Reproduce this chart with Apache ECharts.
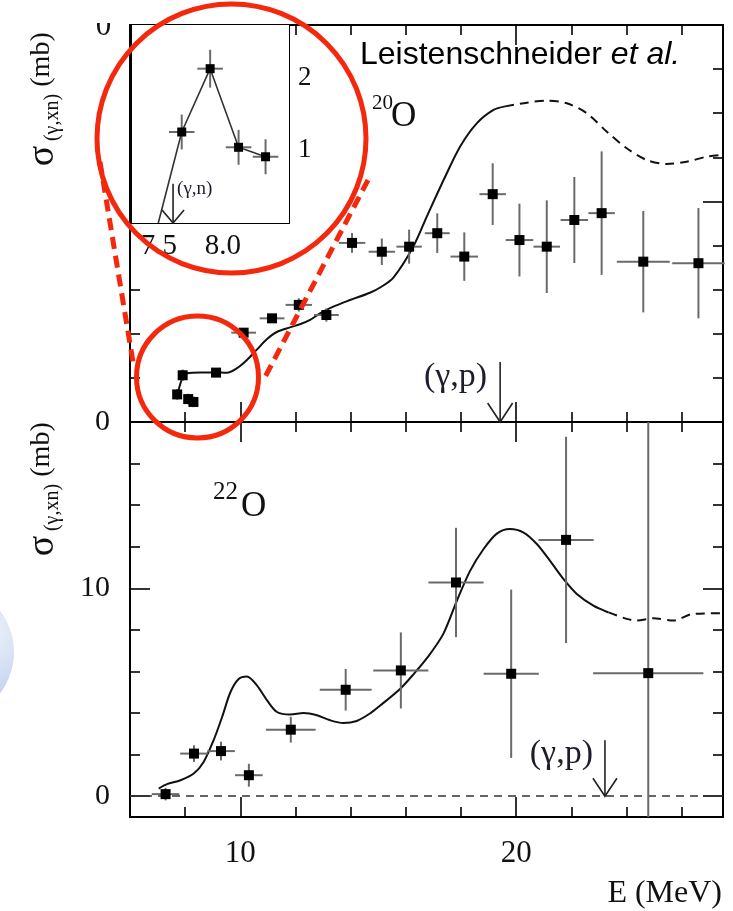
<!DOCTYPE html>
<html><head><meta charset="utf-8">
<script src="https://cdn.jsdelivr.net/npm/echarts@6/dist/echarts.min.js"></script>
<style>html,body{margin:0;padding:0;background:#fff}#c{width:733px;height:911px}</style>
</head><body><div id="c"></div><script>
// ---------------- data ----------------
// 20O (top panel), low-energy points (also shown in inset)
const lowE    = [7.71, 7.91, 8.11, 8.30];
const lowS    = [1.25, 2.12, 1.04, 0.91];
const lowXerr = [0.09, 0.09, 0.09, 0.09];
const lowYerr = [0.24, 0.26, 0.24, 0.24];
// 20O remaining points
const o20E    = [9.12, 10.12, 11.15, 12.12, 13.12, 14.05, 15.13, 16.12, 17.14, 18.12, 19.15, 20.12, 21.11, 22.11, 23.10, 24.61, 26.61];
const o20S    = [2.24, 4.05, 4.70, 5.31, 4.85, 8.12, 7.72, 7.95, 8.56, 7.50, 10.33, 8.25, 7.95, 9.16, 9.47, 7.27, 7.20];
const o20Xerr = [0.12, 0.45, 0.45, 0.48, 0.45, 0.48, 0.48, 0.46, 0.45, 0.50, 0.48, 0.50, 0.48, 0.50, 0.48, 0.96, 0.95];
const o20Yerr = [0.15, 0.20, 0.20, 0.30, 0.30, 0.45, 0.60, 0.77, 0.90, 1.10, 1.40, 1.65, 2.10, 1.95, 2.80, 2.30, 2.50];
// 20O theory curve (solid / dashed)
const o20CurveE = [7.72, 7.93, 8.06, 8.54, 9.08, 9.51, 9.87, 10.23, 10.59, 10.96, 11.32, 11.80, 12.16, 12.53, 12.89, 13.37, 13.98, 14.70, 15.10, 15.55, 16.27, 16.76, 17.37, 17.97, 18.58, 19.18, 19.60];
const o20CurveS = [1.26, 2.10, 2.21, 2.25, 2.25, 2.23, 2.43, 2.80, 3.27, 3.75, 4.08, 4.29, 4.43, 4.63, 4.93, 5.23, 5.53, 5.86, 6.12, 6.55, 7.95, 9.31, 10.97, 12.49, 13.55, 14.15, 14.31];
const o20DashE  = [19.60, 20.39, 21.11, 21.84, 22.56, 23.28, 24.01, 24.73, 25.46, 26.18, 26.91, 27.45];
const o20DashS  = [14.31, 14.48, 14.57, 14.45, 14.00, 13.17, 12.41, 11.88, 11.70, 11.80, 12.03, 12.11];
// 22O (bottom panel)
const o22E    = [7.29, 8.32, 9.30, 10.31, 11.83, 13.82, 15.82, 17.82, 19.82, 21.81, 24.79];
const o22S    = [0.10, 2.05, 2.17, 1.01, 3.20, 5.12, 6.05, 10.28, 5.89, 12.33, 5.92];
const o22Xerr = [0.50, 0.50, 0.50, 0.50, 0.90, 0.94, 1.00, 1.00, 1.00, 1.00, 2.00];
const o22Yerr = [0.30, 0.40, 0.45, 0.55, 0.62, 1.00, 1.83, 2.63, 4.05, 4.96, 14.0];
const o22CurveE = [7.04, 7.34, 7.83, 8.31, 8.67, 9.03, 9.34, 9.64, 9.94, 10.24, 10.60, 10.97, 11.33, 11.81, 12.29, 12.78, 13.26, 13.74, 14.22, 14.70, 15.06, 15.80, 16.30, 16.80, 17.36, 17.85, 18.33, 18.82, 19.30, 19.78, 20.27, 20.75, 21.23, 21.72, 22.20, 22.80, 23.35];
const o22CurveS = [0.37, 0.58, 0.77, 1.09, 1.65, 2.69, 3.81, 5.00, 5.64, 5.76, 5.33, 4.61, 4.05, 3.93, 4.00, 3.89, 3.65, 3.52, 3.62, 3.98, 4.35, 5.17, 5.90, 6.70, 7.81, 9.40, 10.84, 11.89, 12.63, 12.85, 12.68, 12.13, 11.32, 10.44, 9.73, 9.17, 8.84];
const o22DashE  = [23.35, 24.01, 24.37, 24.97, 25.70, 26.42, 27.39];
const o22DashS  = [8.84, 8.53, 8.45, 8.56, 8.45, 8.77, 8.80];
// inset polyline (threshold start + low points)
const insetLineE = [7.545].concat(lowE);
const insetLineS = [0].concat(lowS);
// thresholds (arrows)
const gpTopE = [19.42], gpTopS = [2.72], gpTopLabel = ['(γ,p)'];
const gpBotE = [23.22], gpBotS = [2.69], gpBotLabel = ['(γ,p)'];
const gnE = [7.649], gnS = [0.54], gnLabel = ['(γ,n)'];
// axis ranges and ticks
const X_RANGE = [6, 27.5];
const TOP_Y_RANGE = [0, 18];
const BOT_Y_RANGE = [-1, 18];
const INSET_X_RANGE = [7.36, 8.465];
const INSET_Y_RANGE = [0, 2.72];
const xMajor = [10, 20];
const xMinor = [8, 12, 14, 16, 18, 22, 24, 26];
const xTopMajorO20 = [20];
const xTopMinorO20 = [12, 14, 16, 18, 22, 24, 26];
const xLabels = [10, 20];
const yTopLeftMinor = [2, 4, 6];
const yTopLabels = [0];
const yTopRightMajor = [10];
const yMinor = [2, 4, 6, 8, 12, 14, 16];
const yBotMajor = [0, 10];
const yBotLabels = [0, 10];
const insetXTicks = [7.75, 8.0, 8.25];
const insetXLabels = [7.5, 8.0];
const insetYTicks = [0.5, 1, 1.5, 2, 2.5];
const insetYLabels = [1, 2];

// ---------------- build ----------------
const SERIF = '"Liberation Serif","Times New Roman",serif';
const SANS = '"Liberation Sans",Arial,sans-serif';
const chart = echarts.init(document.getElementById('c'), null, {renderer: 'canvas'});

const xAxes = [], yAxes = [];
function axisBase(gridIndex, position, range, ticks, len, labels, labelCfg) {
  return {
    type: 'value', gridIndex: gridIndex, position: position, min: range[0], max: range[1],
    axisLine: {show: true, onZero: false, lineStyle: {color: '#000', width: 2}},
    axisTick: {show: ticks.length > 0, inside: true, length: len, customValues: ticks, lineStyle: {color: '#000', width: 1.6}},
    axisLabel: labels ? Object.assign({show: true, customValues: labels, fontFamily: SERIF, fontSize: 30, color: '#111', margin: 20}, labelCfg || {}) : {show: false},
    splitLine: {show: false}, splitArea: {show: false}
  };
}
function addX(o) { xAxes.push(o); return xAxes.length - 1; }
function addY(o) { yAxes.push(o); return yAxes.length - 1; }

// grid 0 : 20O
const gx0 = addX(axisBase(0, 'bottom', X_RANGE, xMajor, 20, null));
addX(axisBase(0, 'bottom', X_RANGE, xMinor, 10, null));
addX(axisBase(0, 'top', X_RANGE, xTopMajorO20, 20, null));
addX(axisBase(0, 'top', X_RANGE, xTopMinorO20, 10, null));
const gy0 = addY(axisBase(0, 'left', TOP_Y_RANGE, yTopLeftMinor, 10, yTopLabels));
addY(axisBase(0, 'right', TOP_Y_RANGE, yTopRightMajor, 20, null));
addY(axisBase(0, 'right', TOP_Y_RANGE, yMinor, 10, null));
// grid 1 : 22O
const gx1 = addX(axisBase(1, 'bottom', X_RANGE, xMajor, 20, xLabels, {margin: 21, fontSize: 31}));
addX(axisBase(1, 'bottom', X_RANGE, xMinor, 10, null));
addX(axisBase(1, 'top', X_RANGE, xMajor, 20, null));
addX(axisBase(1, 'top', X_RANGE, xMinor, 10, null));
const gy1 = addY(axisBase(1, 'left', BOT_Y_RANGE, yBotMajor, 20, yBotLabels));
addY(axisBase(1, 'left', BOT_Y_RANGE, yMinor, 10, null));
addY(axisBase(1, 'right', BOT_Y_RANGE, yBotMajor, 20, null));
addY(axisBase(1, 'right', BOT_Y_RANGE, yMinor, 10, null));
// grid 2 : inset
const gx2 = addX(axisBase(2, 'bottom', INSET_X_RANGE, [], 0, insetXLabels, {
  margin: 9, fontSize: 29,
  formatter: function (v) { const s = Number(v).toFixed(1); return Number(v) < 7.75 ? '{sh|' + s + '}' : s; },
  rich: {sh: {fontFamily: SERIF, fontSize: 29, color: '#111', padding: [0, 0, 0, 14]}}
}));
addX(axisBase(2, 'top', INSET_X_RANGE, insetXTicks, 12, null));
const gy2 = addY(axisBase(2, 'left', INSET_Y_RANGE, insetYTicks, 12, null));
addY(axisBase(2, 'right', INSET_Y_RANGE, insetYTicks, 12, insetYLabels, {margin: 9, fontSize: 27}));

function zip(a, b, c, d) { return a.map(function (v, i) { return d ? [v, b[i], c[i], d[i]] : [v, b[i]]; }); }

function errItem(size) {
  return function (params, api) {
    const x = api.value(0), y = api.value(1), dx = api.value(2), dy = api.value(3);
    const c = api.coord([x, y]);
    const l = api.coord([x - dx, y]), r = api.coord([x + dx, y]);
    const t = api.coord([x, y + dy]), b = api.coord([x, y - dy]);
    return {type: 'group', children: [
      {type: 'line', shape: {x1: l[0], y1: l[1], x2: r[0], y2: r[1]}, style: {stroke: '#6a6a6a', lineWidth: 2}},
      {type: 'line', shape: {x1: t[0], y1: t[1], x2: b[0], y2: b[1]}, style: {stroke: '#6a6a6a', lineWidth: 2}},
      {type: 'rect', shape: {x: c[0] - size / 2, y: c[1] - size / 2, width: size, height: size}, style: {fill: '#000'}}
    ]};
  };
}
function arrowItem(labels, cfg) {
  return function (params, api) {
    const e = api.value(0), s = api.value(1);
    const top = api.coord([e, s]), bot = api.coord([e, 0]);
    return {type: 'group', children: [
      {type: 'line', shape: {x1: top[0], y1: top[1], x2: bot[0], y2: bot[1]}, style: {stroke: '#222', lineWidth: 1.6}},
      {type: 'polyline', shape: {points: [[bot[0] - cfg.hw, bot[1] - cfg.hh], [bot[0], bot[1]], [bot[0] + cfg.hw, bot[1] - cfg.hh]]}, style: {stroke: '#222', lineWidth: 1.6, fill: null}},
      {type: 'text', style: {text: labels[params.dataIndex], x: bot[0] + cfg.tx, y: top[1] + cfg.ty, align: cfg.align, verticalAlign: 'middle', font: cfg.font, fill: '#1c1c2c'}}
    ]};
  };
}
const curveStyle = {color: '#111', width: 2};
const series = [
  {type: 'custom', name: 'o20low', xAxisIndex: gx0, yAxisIndex: gy0, renderItem: errItem(10), data: zip(lowE, lowS, lowXerr, lowYerr), z: 5},
  {type: 'custom', name: 'o20', xAxisIndex: gx0, yAxisIndex: gy0, renderItem: errItem(10), data: zip(o20E, o20S, o20Xerr, o20Yerr), z: 5},
  {type: 'line', xAxisIndex: gx0, yAxisIndex: gy0, data: zip(o20CurveE, o20CurveS), smooth: 0.3, showSymbol: false, lineStyle: curveStyle, z: 4},
  {type: 'line', xAxisIndex: gx0, yAxisIndex: gy0, data: zip(o20DashE, o20DashS), smooth: 0.3, showSymbol: false, lineStyle: {color: '#111', width: 2, type: [9, 6]}, z: 4},
  {type: 'custom', xAxisIndex: gx0, yAxisIndex: gy0, renderItem: arrowItem(gpTopLabel, {hw: 12.5, hh: 19, tx: -13, ty: 15, align: 'right', font: '34px ' + SERIF}), data: zip(gpTopE, gpTopS), z: 5},

  {type: 'custom', name: 'o22', xAxisIndex: gx1, yAxisIndex: gy1, renderItem: errItem(10), data: zip(o22E, o22S, o22Xerr, o22Yerr), clip: true, z: 5},
  {type: 'line', xAxisIndex: gx1, yAxisIndex: gy1, data: zip(o22CurveE, o22CurveS), smooth: 0.3, showSymbol: false, lineStyle: curveStyle, z: 4,
    markLine: {silent: true, symbol: ['none', 'none'], label: {show: false}, lineStyle: {type: [8, 6], color: '#333', width: 1.5}, data: [{yAxis: 0}]}},
  {type: 'line', xAxisIndex: gx1, yAxisIndex: gy1, data: zip(o22DashE, o22DashS), smooth: 0.3, showSymbol: false, lineStyle: {color: '#111', width: 2, type: [9, 6]}, z: 4},
  {type: 'custom', xAxisIndex: gx1, yAxisIndex: gy1, renderItem: arrowItem(gpBotLabel, {hw: 12, hh: 18, tx: -12, ty: 14, align: 'right', font: '34px ' + SERIF}), data: zip(gpBotE, gpBotS), z: 5},

  {type: 'line', xAxisIndex: gx2, yAxisIndex: gy2, data: zip(insetLineE, insetLineS), showSymbol: false, lineStyle: {color: '#333', width: 1.6}, z: 6},
  {type: 'custom', xAxisIndex: gx2, yAxisIndex: gy2, renderItem: errItem(9), data: zip(lowE, lowS, lowXerr, lowYerr), z: 7},
  {type: 'custom', xAxisIndex: gx2, yAxisIndex: gy2, renderItem: arrowItem(gnLabel, {hw: 11, hh: 13, tx: 4, ty: 5, align: 'left', font: '19px ' + SERIF}), data: zip(gnE, gnS), z: 7}
];

function rtext(x, y, text, font, extra) {
  return Object.assign({type: 'text', x: x, y: y, rotation: Math.PI / 2, z: 50,
    style: {text: text, font: font, fill: '#111', align: 'center', verticalAlign: 'middle', textAlign: 'center', textVerticalAlign: 'middle'}}, extra || {});
}
function ytitle(off) {
  return [
    rtext(42, 59.5 + off, '(mb)', '28px ' + SERIF),
    rtext(43, 156 + off, 'σ', '38px ' + SERIF),
    rtext(53, 117.5 + off, '(γ,xn)', '20px ' + SERIF)
  ];
}
function htext(x, y, text, font, align, extra) {
  return Object.assign({type: 'text', x: x, y: y, z: 50,
    style: {text: text, font: font, fill: '#111', align: align, verticalAlign: 'middle', textAlign: align, textVerticalAlign: 'middle'}}, extra || {});
}
const RED = '#f4280c';
const graphics = [
  {type: 'circle', shape: {cx: -54, cy: 652, r: 68}, z: 1,
    style: {fill: {type: 'radial', x: 0.8, y: 0.35, r: 0.9, colorStops: [{offset: 0, color: '#eef3fb'}, {offset: 0.55, color: '#c2d1ed'}, {offset: 1, color: '#7d98cf'}]}}},
].concat(ytitle(0), ytitle(390), [
  htext(103.5, 27, '0', '31px ' + SERIF, 'center'),
  {type: 'rect', shape: {x: 85, y: 0, width: 40, height: 23}, style: {fill: '#fff'}, z: 60},
  {type: 'text', x: 360, y: 55, z: 50, style: {text: '{n|Leistenschneider }{i|et al.}', align: 'left', verticalAlign: 'middle', textAlign: 'left', textVerticalAlign: 'middle',
    rich: {n: {font: '32px ' + SANS, fill: '#000', fontFamily: SANS, fontSize: 32, color: '#000'}, i: {font: 'italic 32px ' + SANS, fill: '#000', fontFamily: SANS, fontSize: 32, fontStyle: 'italic', color: '#000'}}}},
  htext(372, 103.5, '20', '21px ' + SERIF, 'left'),
  htext(391, 116.5, 'O', '35px ' + SERIF, 'left'),
  htext(213, 492.5, '22', '25px ' + SERIF, 'left'),
  htext(241, 506.5, 'O', '35px ' + SERIF, 'left'),
  htext(722, 894, 'E (MeV)', '32px ' + SERIF, 'right'),
  // red highlight overlays
  {type: 'circle', shape: {cx: 231.5, cy: 138.5, r: 134.5}, z: 100, style: {fill: null, stroke: RED, lineWidth: 5}},
  {type: 'circle', shape: {cx: 197.5, cy: 377, r: 61}, z: 100, style: {fill: null, stroke: RED, lineWidth: 5}},
  {type: 'line', shape: {x1: 100, y1: 162, x2: 134, y2: 368}, z: 100, style: {stroke: RED, lineWidth: 5, lineDash: [12, 7]}},
  {type: 'line', shape: {x1: 368, y1: 180, x2: 263, y2: 381}, z: 100, style: {stroke: RED, lineWidth: 5, lineDash: [12, 7]}}
]);

chart.setOption({
  animation: false,
  backgroundColor: '#fff',
  grid: [
    {left: 130, top: 25, width: 593, height: 397, containLabel: false, outerBoundsMode: 'none'},
    {left: 130, top: 422, width: 593, height: 395, containLabel: false, outerBoundsMode: 'none'},
    {left: 132, top: 25, width: 157, height: 198, containLabel: false, outerBoundsMode: 'none', show: true, backgroundColor: '#fff', borderWidth: 0, z: 3}
  ],
  xAxis: xAxes,
  yAxis: yAxes,
  series: series,
  graphic: {elements: graphics}
});
</script></body></html>
